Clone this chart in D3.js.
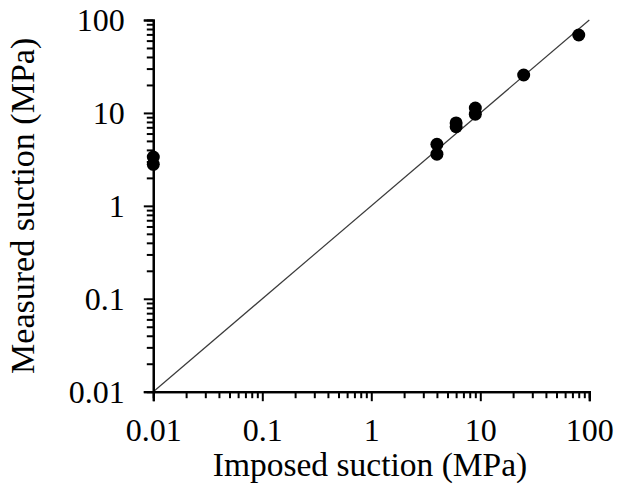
<!DOCTYPE html>
<html>
<head>
<meta charset="utf-8">
<script src="https://cdn.jsdelivr.net/npm/d3@7"></script>
<style>
  html, body { margin: 0; padding: 0; background: #fff; }
  svg { display: block; }
  text { font-family: "Liberation Serif", "Times New Roman", serif; fill: #000; }
</style>
</head>
<body>
<svg id="chart" width="617" height="500"></svg>
<script>
// Data
const imposedSuction = [0.01, 0.01, 4, 4, 6, 6, 9, 9, 25, 80];
const measuredSuction = [3.35, 2.8, 4.6, 3.6, 7.8, 7.1, 11.3, 9.7, 25.6, 69];
const majorTicks = [0.01, 0.1, 1, 10, 100];
const tickLabels = ["0.01", "0.1", "1", "10", "100"];
const oneToOne = [0.01, 100];
const xTitle = "Imposed suction (MPa)";
const yTitle = "Measured suction (MPa)";

const margin = { left: 153.3, right: 617 - 589.3, top: 20, bottom: 500 - 391.7 };
const W = 617, H = 500;
const iw = W - margin.left - margin.right;
const ih = H - margin.top - margin.bottom;

const svg = d3.select("#chart");
const g = svg.append("g").attr("transform", `translate(${margin.left},${margin.top})`);

const x = d3.scaleLog().domain([0.01, 100]).range([0, iw]);
const y = d3.scaleLog().domain([0.01, 100]).range([ih, 0]);

// minor tick values
const minorTicks = [];
for (let e = -2; e < 2; e++) {
  for (let m = 2; m <= 9; m++) minorTicks.push(+(m * Math.pow(10, e)).toPrecision(3));
}
const fmt = d => tickLabels[majorTicks.indexOf(d)];

// 1:1 line
g.append("line")
  .attr("x1", x(oneToOne[0])).attr("y1", y(oneToOne[0]))
  .attr("x2", x(oneToOne[1])).attr("y2", y(oneToOne[1]))
  .attr("stroke", "#3a3a3a").attr("stroke-width", 1.2);

// X axis
const xMinor = g.append("g").attr("transform", `translate(0,${ih})`)
  .call(d3.axisBottom(x).tickValues(minorTicks).tickSize(6.5).tickFormat(""));
const xMajor = g.append("g").attr("transform", `translate(0,${ih})`)
  .call(d3.axisBottom(x).tickValues(majorTicks).tickSize(9.5).tickPadding(17).tickFormat(fmt));

// Y axis
const yMinor = g.append("g")
  .call(d3.axisLeft(y).tickValues(minorTicks).tickSize(6.5).tickFormat(""));
const yMajor = g.append("g")
  .call(d3.axisLeft(y).tickValues(majorTicks).tickSize(9.5).tickPadding(19).tickFormat(fmt));

[xMinor, xMajor, yMinor, yMajor].forEach(a => {
  a.selectAll("path.domain").attr("stroke", "#000").attr("stroke-width", 2.2);
  a.selectAll(".tick line").attr("stroke", "#000").attr("stroke-width", 2);
  a.selectAll("text").style("font-family", '"Liberation Serif", "Times New Roman", serif')
    .style("font-size", "32px").attr("fill", "#000");
});
xMajor.selectAll("text").attr("dy", "0.71em");
yMajor.selectAll("text").attr("dy", "0.34em");

// points
g.selectAll("circle.pt").data(imposedSuction.map((v, i) => [v, measuredSuction[i]]))
  .enter().append("circle")
  .attr("class", "pt")
  .attr("cx", d => x(d[0])).attr("cy", d => y(d[1]))
  .attr("r", 6.5).attr("fill", "#000");

// titles
svg.append("text")
  .attr("x", 370).attr("y", 476)
  .attr("text-anchor", "middle")
  .style("font-size", "33.5px")
  .text(xTitle);

svg.append("text")
  .attr("transform", `translate(34,${margin.top + ih / 2}) rotate(-90)`)
  .attr("text-anchor", "middle")
  .style("font-size", "34px")
  .text(yTitle);
</script>
</body>
</html>
